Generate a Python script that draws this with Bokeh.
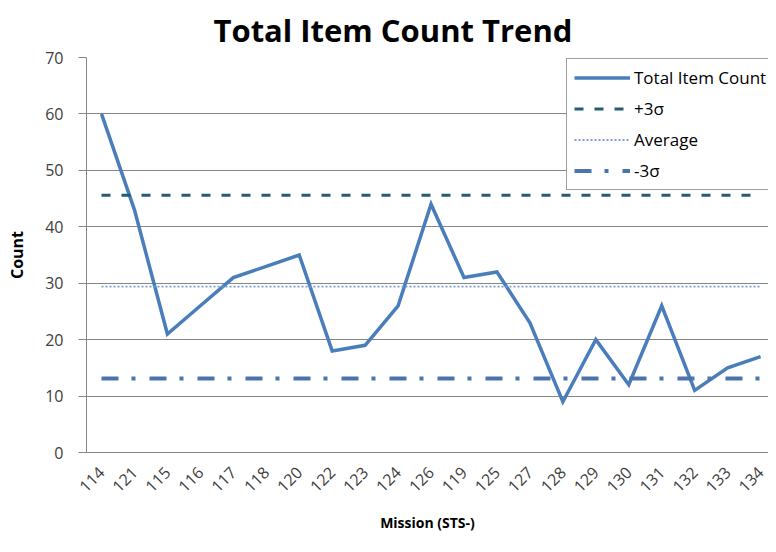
import math
from bokeh.plotting import figure
from bokeh.models import Range1d, FixedTicker, Legend, LegendItem
from bokeh.embed import file_html
from bokeh.resources import INLINE

missions = ["114", "121", "115", "116", "117", "118", "120", "122", "123", "124",
            "126", "119", "125", "127", "128", "129", "130", "131", "132", "133", "134"]
counts = [60, 43, 21, 26, 31, 33, 35, 18, 19, 26, 44, 31, 32, 23, 9, 20, 12, 26, 11, 15, 17]
upper_3sigma = 45.6
average = 29.4
lower_3sigma = 13.1
y_ticks = [0, 10, 20, 30, 40, 50, 60, 70]
title_text = "Total Item Count Trend"

xs = list(range(len(missions)))
n = len(missions)

FONT = "Open Sans"

p = figure(width=768, height=536, output_backend="svg", toolbar_location=None,
           x_range=Range1d(-0.455, 20.24), y_range=Range1d(0, 70),
           min_border_left=86, min_border_right=0, min_border_top=57,
           min_border_bottom=84)

p.outline_line_color = None
p.background_fill_color = "white"
p.border_fill_color = "white"

p.title.text = title_text
p.title.text_font = FONT
p.title.text_font_size = "31px"
p.title.text_font_style = "bold"
p.title.text_color = "#000000"
p.title.align = "left"
p.title.vertical_align = "top"
p.title.offset = 127

# x axis
p.xaxis.ticker = FixedTicker(ticks=xs)
p.xaxis.major_label_overrides = {i: m for i, m in enumerate(missions)}
p.xaxis.major_label_orientation = math.pi / 4
p.xaxis.major_tick_line_color = None
p.xaxis.minor_tick_line_color = None
p.xaxis.axis_line_color = "#868686"
p.xaxis.major_label_text_font = FONT
p.xaxis.major_label_text_font_size = "16px"
p.xaxis.major_label_text_color = "#404040"
p.xaxis.major_label_standoff = 11
p.xaxis.axis_label = "Mission (STS-)"
p.xaxis.axis_label_text_font = FONT
p.xaxis.axis_label_text_font_size = "14px"
p.xaxis.axis_label_text_font_style = "bold"
p.xaxis.axis_label_text_color = "#000000"
p.xaxis.axis_label_standoff = 13
p.xgrid.grid_line_color = None

# y axis
p.yaxis.ticker = FixedTicker(ticks=y_ticks)
p.yaxis.minor_tick_line_color = None
p.yaxis.major_tick_in = 0
p.yaxis.major_tick_out = 8
p.yaxis.major_tick_line_color = "#868686"
p.yaxis.axis_line_color = "#868686"
p.yaxis.major_label_text_font = FONT
p.yaxis.major_label_text_font_size = "16px"
p.yaxis.major_label_text_color = "#404040"
p.yaxis.major_label_standoff = 15
p.yaxis.axis_label = "Count"
p.yaxis.axis_label_text_font = FONT
p.yaxis.axis_label_text_font_size = "16px"
p.yaxis.axis_label_text_font_style = "bold"
p.yaxis.axis_label_text_color = "#000000"
p.yaxis.axis_label_standoff = 14
p.ygrid.grid_line_color = "#868686"
p.ygrid.grid_line_width = 1

r_main = p.line(xs, counts, line_color="#4A7EBB", line_width=3.5, line_join="miter")
r_up = p.line(xs, [upper_3sigma] * n, line_color="#215E74", line_width=3,
              line_dash="9 11")
r_avg = p.line(xs, [average] * n, line_color="#7A9CCB", line_width=1.8,
               line_dash="2 2")
r_low = p.line(xs, [lower_3sigma] * n, line_color="#4A74AA", line_width=4,
               line_dash="17 13 4 14")

legend = Legend(items=[
    LegendItem(label="Total Item Count", renderers=[r_main]),
    LegendItem(label="+3σ", renderers=[r_up]),
    LegendItem(label="Average", renderers=[r_avg]),
    LegendItem(label="-3σ", renderers=[r_low]),
], location=(480, 262))
legend.label_text_font = FONT
legend.label_text_font_size = "17px"
legend.label_text_color = "#000000"
legend.glyph_width = 56
legend.glyph_height = 23
legend.label_height = 23
legend.label_width = 150
legend.spacing = 8
legend.padding = 7
legend.margin = 0
legend.label_standoff = 4
legend.border_line_color = "#404040"
legend.border_line_width = 1
legend.background_fill_alpha = 1.0
p.add_layout(legend, "center")

open("out.html", "w").write(file_html(p, INLINE))
